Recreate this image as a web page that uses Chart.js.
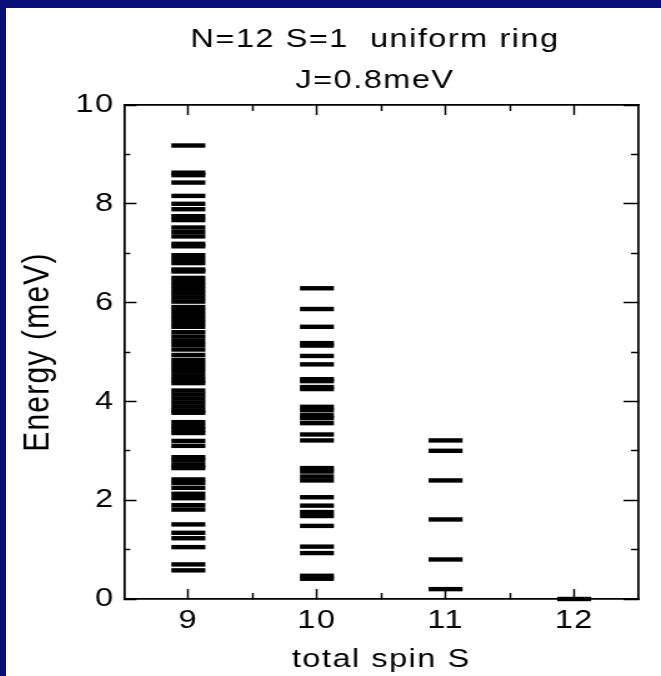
<!DOCTYPE html>
<html>
<head>
<meta charset="utf-8">
<script src="https://cdn.jsdelivr.net/npm/chart.js@4/dist/chart.umd.min.js"></script>
<style>
  body { margin: 0; background: #fff; }
  #frame { border-top: 8px solid #0a0f78; border-left: 6px solid #0a0f78; width: 655px; height: 668px; }
  #levels { display: block; }
</style>
</head>
<body>
<div id="frame">
  <!-- drawn at 524 px wide and stretched to 655 px, like the original figure -->
  <canvas id="levels" width="524" height="668" style="width:655px;height:668px"></canvas>
</div>
<script>
const titleLines = ['N=12 S=1  uniform ring', 'J=0.8meV']

// total spin sectors (x categories)
const spinValues = [9, 10, 11, 12]

// energy levels, meV
const levelsS9 = [9.18, 8.63, 8.58, 8.43, 8.16, 8.00, 7.89, 7.75, 7.67, 7.52, 7.43, 7.34,
  7.19, 7.14, 6.96, 6.88, 6.80, 6.67, 6.63, 6.50, 6.42, 6.34, 6.26, 6.18, 6.10, 6.02,
  5.91, 5.83, 5.75, 5.67, 5.59, 5.51, 5.40, 5.31, 5.22, 5.14, 5.05, 4.94, 4.84, 4.76,
  4.68, 4.60, 4.51, 4.43, 4.37, 4.22, 4.14, 4.06, 3.98, 3.90, 3.82, 3.77, 3.58, 3.50,
  3.43, 3.36, 3.20, 3.10, 2.87, 2.80, 2.71, 2.65, 2.42, 2.35, 2.25, 2.13, 2.04, 1.90,
  1.81, 1.51, 1.34, 1.23, 1.05, 0.70, 0.58]
const levelsS10 = [6.29, 5.87, 5.51, 5.18, 5.13, 4.92, 4.75, 4.45, 4.41, 4.29, 4.25,
  3.89, 3.82, 3.72, 3.66, 3.56, 3.33, 3.21, 2.65, 2.58, 2.48, 2.40, 2.06, 1.89, 1.76,
  1.68, 1.48, 1.06, 0.93, 0.47, 0.41]
const levelsS11 = [3.21, 3.00, 2.40, 1.61, 0.80, 0.20]
const levelsS12 = [0]

const energyMajorTicks = [0, 2, 4, 6, 8, 10]
const energyMinorTicks = [1, 3, 5, 7, 9]
const spinMinorTicks = [9.5, 10.5, 11.5]

const S_MIN = 8.5, S_MAX = 12.5, E_MIN = 0, E_MAX = 10

Chart.defaults.font.family = '"Liberation Sans", Arial, sans-serif'
Chart.defaults.color = '#000'

// one side of the box: inward tick marks at the given values, no labels
function frameAxis(position, tickValues, tickLength, weight, extra) {
  const horizontal = position === 'top' || position === 'bottom'
  return Object.assign({
    type: 'linear',
    position,
    weight,
    min: horizontal ? S_MIN : E_MIN,
    max: horizontal ? S_MAX : E_MAX,
    afterBuildTicks: s => { s.ticks = tickValues.map(v => ({ value: v })) },
    afterFit: s => { if (horizontal) s.height = 0; else s.width = 0 },
    grid: { drawOnChartArea: false, tickLength: -tickLength, tickWidth: 1.5, tickColor: '#000' },
    border: { color: '#000', width: 1.5 },
    ticks: { display: false }
  }, extra)
}

// the original lettering is wider than Arial: open it up a little.
// the y axis (z: 1) is drawn after the datasets, with wider spacing for its long title
const spacingPlugin = {
  id: 'spacing',
  beforeDraw(chart) { chart.ctx.letterSpacing = '1.2px' },
  afterDatasetsDraw(chart) { chart.ctx.letterSpacing = '4.5px' }
}

const headerPlugin = {
  id: 'header',
  afterDraw(chart, args, opts) {
    const { ctx, chartArea } = chart
    ctx.save()
    ctx.letterSpacing = '1.2px'
    ctx.font = opts.size + 'px ' + Chart.defaults.font.family
    ctx.fillStyle = '#000'
    ctx.textAlign = 'center'
    ctx.textBaseline = 'alphabetic'
    const cx = (chartArea.left + chartArea.right) / 2 + opts.shift
    opts.lines.forEach((t, i) => ctx.fillText(t, cx, opts.baseline + i * opts.gap))
    ctx.restore()
  }
}

const data = {
  datasets: [levelsS9, levelsS10, levelsS11, levelsS12].map((levels, i) => ({
    label: 'S=' + spinValues[i],
    data: levels.map(e => ({ x: spinValues[i], y: e })),
    clip: false
  }))
}

const config = {
  type: 'scatter',
  data,
  options: {
    responsive: false,
    animation: false,
    devicePixelRatio: 1,
    events: [],
    layout: { padding: { top: 97, right: 14, left: 0, bottom: 0 } },
    elements: {
      point: { pointStyle: 'line', radius: 13.6, borderWidth: 4.4, borderColor: '#000', backgroundColor: '#000' }
    },
    plugins: {
      legend: { display: false },
      tooltip: { enabled: false },
      header: { lines: titleLines, size: 26, baseline: 38.7, gap: 41.3, shift: -5 }
    },
    scales: {
      x: frameAxis('bottom', spinValues, 10, 1, {
        afterFit: s => { s.height = 77 },
        ticks: { display: true, padding: 16.6, maxRotation: 0, font: { size: 26 } },
        title: { display: true, text: 'total spin S', font: { size: 26 }, padding: { top: 0, bottom: 0.5 } }
      }),
      xMinor: frameAxis('bottom', spinMinorTicks, 6, 0),
      xTop: frameAxis('top', spinValues, 10, 1),
      xTopMinor: frameAxis('top', spinMinorTicks, 6, 0),
      y: frameAxis('left', energyMajorTicks, 10, 1, {
        z: 1,
        afterFit: s => { s.width = 94.4 },
        ticks: { display: true, padding: 17.5, font: { size: 26 } },
        title: { display: true, text: 'Energy (meV)', font: { size: 30 }, padding: { top: 7.3, bottom: 0 } }
      }),
      yMinor: frameAxis('left', energyMinorTicks, 5, 0),
      yRight: frameAxis('right', energyMajorTicks, 12, 0),
      yRightMinor: frameAxis('right', energyMinorTicks, 6, 1)
    }
  },
  plugins: [spacingPlugin, headerPlugin]
}

const chart = new Chart(document.getElementById('levels'), config)
</script>
</body>
</html>
